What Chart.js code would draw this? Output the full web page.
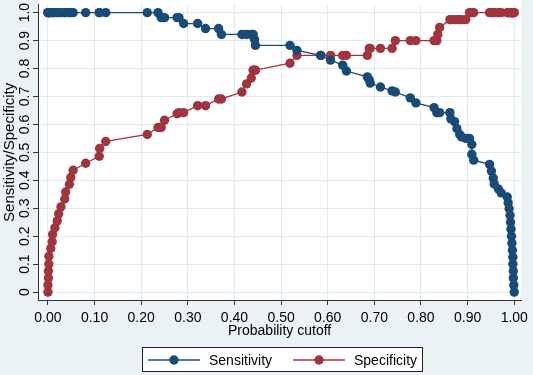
<!DOCTYPE html>
<html>
<head>
<meta charset="utf-8">
<script src="https://cdn.jsdelivr.net/npm/chart.js@4/dist/chart.umd.min.js"></script>
<style>
  html, body { margin: 0; padding: 0; background: #eaf2f3; }
  #wrap { width: 533px; height: 375px; position: relative; }
</style>
</head>
<body>
<div id="wrap"><canvas id="c" width="533" height="375"></canvas></div>
<script>
// Probability cutoffs (shared by both curves)
const cutoffs = [
  0.000, 0.000, 0.001, 0.001, 0.002, 0.002, 0.006, 0.009, 0.010, 0.015,
  0.020, 0.023, 0.028, 0.036, 0.038, 0.046, 0.049, 0.054, 0.081, 0.110,
  0.111, 0.124, 0.213, 0.236, 0.243, 0.250, 0.277, 0.281, 0.291, 0.321,
  0.338, 0.366, 0.372, 0.416, 0.426, 0.436, 0.440, 0.443, 0.445, 0.519,
  0.534, 0.585, 0.606, 0.632, 0.640, 0.685, 0.689, 0.691, 0.713, 0.738,
  0.745, 0.777, 0.789, 0.828, 0.834, 0.836, 0.840, 0.862, 0.864, 0.872,
  0.877, 0.883, 0.887, 0.896, 0.904, 0.909, 0.909, 0.913, 0.947, 0.951,
  0.955, 0.957, 0.966, 0.972, 0.985, 0.987, 0.989, 0.991, 0.992, 0.993,
  0.994, 0.995, 0.996, 0.997, 0.997, 0.998, 0.998, 0.999, 1.000
];
const sensitivity = [
  1, 1, 1, 1, 1, 1, 1, 1, 1, 1,
  1, 1, 1, 1, 1, 1, 1, 1, 1, 1,
  1, 1, 1, 1, 0.982, 0.982, 0.982, 0.982, 0.961, 0.961,
  0.943, 0.943, 0.922, 0.922, 0.922, 0.922, 0.922, 0.904, 0.883, 0.883,
  0.865, 0.847, 0.830, 0.812, 0.791, 0.770, 0.760, 0.748, 0.734, 0.720,
  0.716, 0.695, 0.677, 0.660, 0.642, 0.642, 0.642, 0.642, 0.620, 0.610,
  0.585, 0.564, 0.555, 0.550, 0.550, 0.528, 0.493, 0.472, 0.457, 0.433,
  0.408, 0.387, 0.369, 0.355, 0.340, 0.319, 0.298, 0.275, 0.250, 0.225,
  0.200, 0.175, 0.150, 0.125, 0.100, 0.075, 0.050, 0.025, 0.000
];
const specificity = [
  0.000, 0.025, 0.050, 0.075, 0.100, 0.128, 0.156, 0.180, 0.206, 0.230,
  0.255, 0.280, 0.305, 0.333, 0.358, 0.386, 0.410, 0.436, 0.461, 0.486,
  0.514, 0.539, 0.564, 0.589, 0.589, 0.615, 0.638, 0.642, 0.642, 0.667,
  0.667, 0.691, 0.691, 0.716, 0.745, 0.766, 0.794, 0.794, 0.794, 0.819,
  0.847, 0.847, 0.847, 0.847, 0.847, 0.847, 0.872, 0.872, 0.872, 0.872,
  0.900, 0.900, 0.900, 0.900, 0.900, 0.922, 0.947, 0.975, 0.975, 0.975,
  0.975, 0.975, 0.975, 0.975, 1, 1, 1, 1, 1, 1,
  1, 1, 1, 1, 1, 1, 1, 1, 1, 1,
  1, 1, 1, 1, 1, 1, 1, 1, 1
];
const seriesNames = ['Sensitivity', 'Specificity'];
const xTickValues = [0, 0.1, 0.2, 0.3, 0.4, 0.5, 0.6, 0.7, 0.8, 0.9, 1.0];
const xTickLabels = ['0.00','0.10','0.20','0.30','0.40','0.50','0.60','0.70','0.80','0.90','1.00'];
const yTickValues = [0, 0.1, 0.2, 0.3, 0.4, 0.5, 0.6, 0.7, 0.8, 0.9, 1.0];
const yTickLabels = ['0','0.1','0.2','0.3','0.4','0.5','0.6','0.7','0.8','0.9','1.0'];
const xTitle = 'Probability cutoff';
const yTitle = 'Sensitivity/Specificity';

const BLUE = '#1a4a76';
const RED = '#a0343f';
const BG = '#eaf2f3';
const FONT = '"Liberation Sans", Arial, sans-serif';

const sensPts = cutoffs.map((c, i) => ({x: c, y: sensitivity[i]}));
const specPts = cutoffs.map((c, i) => ({x: c, y: specificity[i]}));

const bgPlugin = {
  id: 'bg',
  beforeDraw(chart) {
    const {ctx, chartArea: a} = chart;
    ctx.save();
    ctx.fillStyle = BG;
    ctx.fillRect(0, 0, chart.width, chart.height);
    ctx.fillStyle = '#ffffff';
    ctx.fillRect(a.left, 0, a.right - a.left, a.bottom);
    ctx.restore();
  }
};

const yLabelPlugin = {
  id: 'ylabels',
  afterDraw(chart) {
    const {ctx} = chart;
    const ys = chart.scales.y;
    ctx.save();
    ctx.font = '14px ' + FONT;
    ctx.fillStyle = '#000';
    ctx.textAlign = 'center';
    ctx.textBaseline = 'alphabetic';
    yTickValues.forEach((v, i) => {
      const py = ys.getPixelForValue(v);
      ctx.save();
      ctx.translate(29, py);
      ctx.rotate(-Math.PI / 2);
      ctx.fillText(yTickLabels[i], 0, 0);
      ctx.restore();
    });
    ctx.restore();
  }
};

const legendPlugin = {
  id: 'boxLegend',
  afterDraw(chart) {
    const {ctx} = chart;
    ctx.save();
    ctx.fillStyle = '#ffffff';
    ctx.fillRect(142, 347, 281, 25);
    ctx.strokeStyle = '#222';
    ctx.lineWidth = 1;
    ctx.strokeRect(142.5, 347.5, 280, 24);
    const items = [
      {x0: 148, x1: 200, mx: 174, tx: 209, color: BLUE, label: seriesNames[0]},
      {x0: 293, x1: 345, mx: 319, tx: 354, color: RED, label: seriesNames[1]}
    ];
    items.forEach(it => {
      ctx.strokeStyle = it.color;
      ctx.lineWidth = 1.3;
      ctx.beginPath();
      ctx.moveTo(it.x0, 360);
      ctx.lineTo(it.x1, 360);
      ctx.stroke();
      ctx.fillStyle = it.color;
      ctx.beginPath();
      ctx.arc(it.mx, 360, 4.7, 0, Math.PI * 2);
      ctx.fill();
      ctx.fillStyle = '#000';
      ctx.font = '14px ' + FONT;
      ctx.textAlign = 'left';
      ctx.textBaseline = 'alphabetic';
      ctx.fillText(it.label, it.tx, 365);
    });
    ctx.restore();
  }
};

new Chart(document.getElementById('c'), {
  type: 'scatter',
  data: {
    datasets: [
      {
        label: seriesNames[0], data: sensPts, showLine: true,
        borderColor: BLUE, backgroundColor: BLUE, borderWidth: 1.3,
        pointRadius: 4.7, pointBorderWidth: 0, pointHoverRadius: 4.7
      },
      {
        label: seriesNames[1], data: specPts, showLine: true,
        borderColor: RED, backgroundColor: RED, borderWidth: 1.3,
        pointRadius: 4.7, pointBorderWidth: 0, pointHoverRadius: 4.7
      }
    ]
  },
  options: {
    responsive: false,
    animation: false,
    layout: { padding: { left: 0, top: 2, right: 8, bottom: 30 } },
    plugins: { legend: { display: false }, tooltip: { enabled: false } },
    scales: {
      x: {
        type: 'linear',
        min: -0.0213, max: 1.0149,
        afterBuildTicks: s => { s.ticks = xTickValues.map(v => ({value: v})); },
        afterFit: s => { s.height = 45; },
        ticks: {
          autoSkip: false, maxRotation: 0, minRotation: 0, padding: 5,
          color: '#000', font: { family: FONT, size: 14 },
          callback: (v, i) => xTickLabels[i]
        },
        grid: { color: '#dfecee', lineWidth: 1, tickLength: 5, tickColor: '#333', tickWidth: 1 },
        border: { display: true, color: '#333', width: 1 },
        title: { display: true, text: xTitle, color: '#000', font: { family: FONT, size: 14 }, padding: { top: 0, bottom: 5.6 } }
      },
      y: {
        type: 'linear',
        min: -0.0284, max: 1.0284,
        afterBuildTicks: s => { s.ticks = yTickValues.map(v => ({value: v})); },
        afterFit: s => { s.width = 38; },
        ticks: { display: false },
        grid: { color: '#dfecee', lineWidth: 1, tickLength: 5, tickColor: '#333', tickWidth: 1 },
        border: { display: true, color: '#333', width: 1 },
        title: { display: true, text: yTitle, color: '#000', font: { family: FONT, size: 15 }, padding: { top: 0.5, bottom: 0 } }
      }
    }
  },
  plugins: [bgPlugin, yLabelPlugin, legendPlugin]
});
</script>
</body>
</html>
